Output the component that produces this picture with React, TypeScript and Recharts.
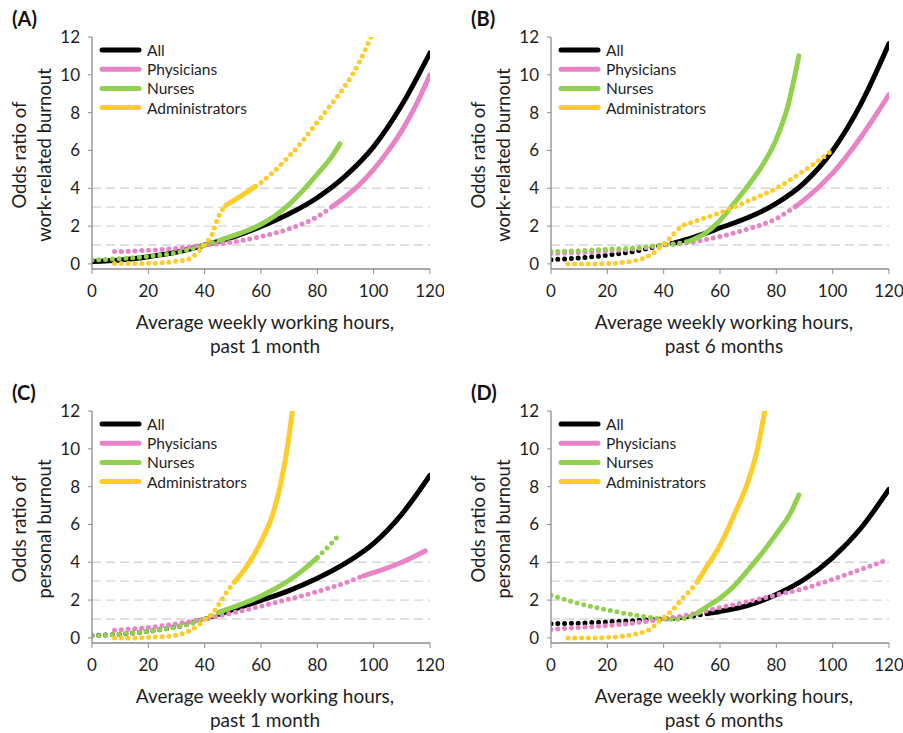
import React from 'react'
import { LineChart, Line, XAxis, YAxis, ReferenceLine } from 'recharts'

type Pt = [number, number]

const seriesNames = ['All', 'Physicians', 'Nurses', 'Administrators']
const seriesColors = ['#000000', '#e884c6', '#92d050', '#ffcc29']
const hourTicks = [0, 20, 40, 60, 80, 100, 120]
const oddsTicks = [0, 2, 4, 6, 8, 10, 12]
const guideLines = [1, 2, 3, 4]

// (A) work-related burnout, past 1 month
const allA: Pt[] = [[0, 0.12], [10, 0.2], [20, 0.38], [30, 0.62], [40, 1.0], [50, 1.42], [60, 1.98], [70, 2.65], [80, 3.5], [90, 4.65], [100, 6.2], [110, 8.4], [120, 11.16]]
const physA: Pt[] = [[8, 0.65], [20, 0.72], [30, 0.82], [40, 1.0], [50, 1.15], [60, 1.45], [70, 1.85], [80, 2.5], [85, 3.0], [90, 3.55], [95, 4.2], [100, 5.0], [105, 5.95], [110, 7.05], [115, 8.4], [120, 10.0]]
const nurseA: Pt[] = [[0, 0.2], [10, 0.28], [20, 0.4], [30, 0.6], [40, 1.0], [46, 1.28], [50, 1.48], [55, 1.75], [60, 2.1], [65, 2.55], [70, 3.15], [75, 3.9], [80, 4.75], [85, 5.65], [88, 6.35]]
const adminA: Pt[] = [[8, 0.02], [15, 0.02], [20, 0.03], [25, 0.06], [30, 0.14], [33.7, 0.22], [36, 0.4], [38.4, 0.75], [40.6, 1.14], [42.6, 1.54], [43.8, 2.07], [45.6, 2.7], [47.5, 3.1], [53, 3.6], [58, 4.1], [60, 4.3], [65, 4.95], [70, 5.7], [75, 6.55], [80, 7.5], [85, 8.45], [90, 9.45], [95, 10.7], [99, 12.0]]
const solidA: (Pt | null)[] = [[0, 120], [85, 120], [46, 88], [47.5, 58]]

// (B) work-related burnout, past 6 months
const allB: Pt[] = [[0, 0.22], [10, 0.32], [20, 0.46], [30, 0.68], [40, 1.0], [44, 1.12], [50, 1.38], [60, 1.9], [70, 2.45], [80, 3.2], [90, 4.3], [100, 6.0], [110, 8.45], [120, 11.65]]
const physB: Pt[] = [[0, 0.55], [10, 0.6], [20, 0.68], [30, 0.8], [40, 1.0], [50, 1.15], [60, 1.45], [70, 1.85], [80, 2.4], [86.8, 3.04], [90, 3.4], [100, 4.8], [110, 6.7], [120, 8.95]]
const nurseB: Pt[] = [[0, 0.65], [10, 0.7], [20, 0.77], [30, 0.85], [40, 1.0], [44, 1.05], [49, 1.2], [55, 1.65], [60, 2.3], [65, 3.2], [70, 4.15], [75, 5.2], [80, 6.6], [84, 8.3], [88, 11.0]]
const adminB: Pt[] = [[6, 0.0], [15, 0.0], [20, 0.02], [26, 0.08], [30, 0.18], [33, 0.3], [36.4, 0.58], [38.8, 0.89], [41.7, 1.28], [44.1, 1.67], [46.5, 2.0], [50, 2.2], [55, 2.45], [60, 2.7], [65, 3.0], [70, 3.33], [75, 3.65], [80, 4.0], [85, 4.45], [90, 4.95], [95, 5.45], [100, 6.04]]
const solidB: (Pt | null)[] = [[44, 120], [86.8, 120], [49, 88], null]

// (C) personal burnout, past 1 month
const allC: Pt[] = [[0, 0.12], [10, 0.2], [20, 0.35], [30, 0.58], [40, 1.0], [45, 1.25], [50, 1.5], [60, 1.98], [70, 2.5], [80, 3.15], [90, 3.95], [100, 5.0], [110, 6.55], [120, 8.6]]
const physC: Pt[] = [[8, 0.4], [20, 0.55], [30, 0.75], [40, 1.0], [50, 1.32], [60, 1.68], [70, 2.05], [80, 2.45], [90, 2.92], [96.4, 3.28], [100, 3.45], [110, 4.0], [118.3, 4.6]]
const nurseC: Pt[] = [[0, 0.1], [10, 0.2], [20, 0.35], [30, 0.58], [40, 1.0], [45, 1.35], [50, 1.62], [55, 1.9], [60, 2.22], [65, 2.6], [70, 3.05], [75, 3.6], [80, 4.25], [84, 4.85], [87.5, 5.4]]
const adminC: Pt[] = [[8, 0.0], [15, 0.0], [20, 0.03], [25, 0.06], [30, 0.15], [35, 0.4], [38, 0.7], [40.2, 1.0], [43.2, 1.37], [45.6, 1.9], [47.9, 2.43], [50.5, 2.95], [55, 3.8], [59.7, 5.0], [64.5, 6.7], [66.9, 8.1], [69.8, 10.5], [71.1, 12.0]]
const solidC: (Pt | null)[] = [[45, 120], [96.4, 118.3], [45, 80], [50.5, 71.1]]

// (D) personal burnout, past 6 months
const allD: Pt[] = [[0, 0.75], [10, 0.78], [20, 0.85], [30, 0.92], [40, 1.0], [50, 1.15], [56, 1.3], [60, 1.4], [70, 1.72], [80, 2.3], [90, 3.1], [100, 4.25], [110, 5.8], [120, 7.86]]
const physD: Pt[] = [[0, 0.45], [10, 0.55], [20, 0.65], [30, 0.8], [40, 1.0], [50, 1.25], [60, 1.6], [70, 1.92], [80, 2.27], [90, 2.62], [100, 3.1], [110, 3.62], [118, 4.05]]
const nurseD: Pt[] = [[0, 2.25], [10, 1.82], [20, 1.48], [30, 1.2], [40, 1.0], [45, 0.98], [48, 1.05], [51.8, 1.3], [55, 1.62], [60, 2.1], [65, 2.75], [70, 3.6], [75, 4.5], [80, 5.5], [85, 6.6], [88, 7.56]]
const adminD: Pt[] = [[6, 0.0], [15, 0.0], [20, 0.03], [25, 0.08], [30, 0.2], [35, 0.45], [38.8, 0.93], [41.7, 1.28], [44.1, 1.63], [46.5, 2.07], [48.9, 2.43], [51.8, 2.93], [55, 3.7], [60, 4.9], [65, 6.5], [70, 8.3], [73, 9.8], [75.9, 12.0]]
const solidD: (Pt | null)[] = [[56, 120], null, [51.8, 88], [51.8, 75.9]]

const FONT = 'Lato, "DejaVu Sans", sans-serif'
const W = 444
const H = 359

type Seg = { solid: boolean; data: { h: number; or: number }[] }

// split a curve into dotted (not significant) and solid (significant) pieces
function segments(pts: Pt[], range: Pt | null): Seg[] {
  const toRows = (p: Pt[]) => p.map(([h, or]) => ({ h, or }))
  if (!range) return [{ solid: false, data: toRows(pts) }]
  const [from, to] = range
  const out: Seg[] = [
    { solid: false, data: toRows(pts.filter(p => p[0] <= from)) },
    { solid: true, data: toRows(pts.filter(p => p[0] >= from && p[0] <= to)) },
    { solid: false, data: toRows(pts.filter(p => p[0] >= to)) },
  ]
  return out.filter(s => s.data.length > 1)
}

function Panel(props: {
  label: string
  yTitle: string
  xTitle: string
  curves: Pt[][]
  solid: (Pt | null)[]
  left: number
  top: number
}) {
  const { label, yTitle, xTitle, curves, solid, left, top } = props
  return (
    <div style={{ position: 'absolute', left, top, width: W, height: H }}>
      <LineChart width={W} height={H} margin={{ top: 37, right: 14, bottom: 60, left: 0 }} style={{ fontFamily: FONT }}>
        <XAxis
          type="number"
          dataKey="h"
          domain={[0, 120]}
          ticks={hourTicks}
          allowDataOverflow
          height={30}
          tickSize={5}
          tickMargin={11}
          axisLine={{ stroke: '#8c8c8c', strokeWidth: 1.3 }}
          tickLine={{ stroke: '#8c8c8c' }}
          tick={{ fill: '#1e1e1e', fontSize: 17, fontFamily: FONT }}
        />
        <YAxis
          type="number"
          domain={[-0.27, 12]}
          ticks={oddsTicks}
          allowDataOverflow
          width={92}
          tickSize={4}
          tickMargin={8}
          axisLine={{ stroke: '#8c8c8c', strokeWidth: 1.3 }}
          tickLine={{ stroke: '#8c8c8c' }}
          tick={{ fill: '#1e1e1e', fontSize: 17, fontFamily: FONT }}
        />
        {guideLines.map(v => (
          <ReferenceLine key={v} y={v} stroke="#d6d6d6" strokeWidth={1.3} strokeDasharray="9 5" />
        ))}
        {curves.map((pts, i) =>
          segments(pts, solid[i]).map((s, j) => (
            <Line
              key={`${i}-${j}`}
              data={s.data}
              dataKey="or"
              type="monotone"
              stroke={seriesColors[i]}
              strokeWidth={5}
              strokeDasharray={s.solid ? undefined : '0 6.8'}
              strokeLinecap="round"
              dot={false}
              activeDot={false}
              isAnimationActive={false}
            />
          ))
        )}
      </LineChart>
      <svg width={W} height={H} style={{ position: 'absolute', left: 0, top: 0, pointerEvents: 'none', fontFamily: FONT }}>
        <text x={12} y={26} fontSize={20} fontWeight="bold" fill="#111">{label}</text>
        <text transform="translate(32,155) rotate(-90)" textAnchor="middle" fontSize={18.5} fill="#1e1e1e">
          <tspan x={0} y={-6}>Odds ratio of</tspan>
          <tspan x={0} y={19}>{yTitle}</tspan>
        </text>
        <text textAnchor="middle" fontSize={19} fill="#1e1e1e">
          <tspan x={265} y={329}>Average weekly working hours,</tspan>
          <tspan x={265} y={353}>{xTitle}</tspan>
        </text>
        {seriesNames.map((name, i) => (
          <g key={name}>
            <line x1={102} x2={139} y1={50 + 19.2 * i} y2={50 + 19.2 * i} stroke={seriesColors[i]} strokeWidth={5} strokeLinecap="round" />
            <text x={147} y={50 + 19.2 * i} dominantBaseline="central" fontSize={15.5} fill="#1e1e1e">{name}</text>
          </g>
        ))}
      </svg>
    </div>
  )
}

export default function App() {
  return (
    <div style={{ position: 'absolute', left: 0, top: 0, width: 903, height: 733, background: '#fff', overflow: 'hidden' }}>
      <Panel label="(A)" yTitle="work-related burnout" xTitle="past 1 month" curves={[allA, physA, nurseA, adminA]} solid={solidA} left={0} top={0} />
      <Panel label="(B)" yTitle="work-related burnout" xTitle="past 6 months" curves={[allB, physB, nurseB, adminB]} solid={solidB} left={459} top={0} />
      <Panel label="(C)" yTitle="personal burnout" xTitle="past 1 month" curves={[allC, physC, nurseC, adminC]} solid={solidC} left={0} top={374} />
      <Panel label="(D)" yTitle="personal burnout" xTitle="past 6 months" curves={[allD, physD, nurseD, adminD]} solid={solidD} left={459} top={374} />
    </div>
  )
}
